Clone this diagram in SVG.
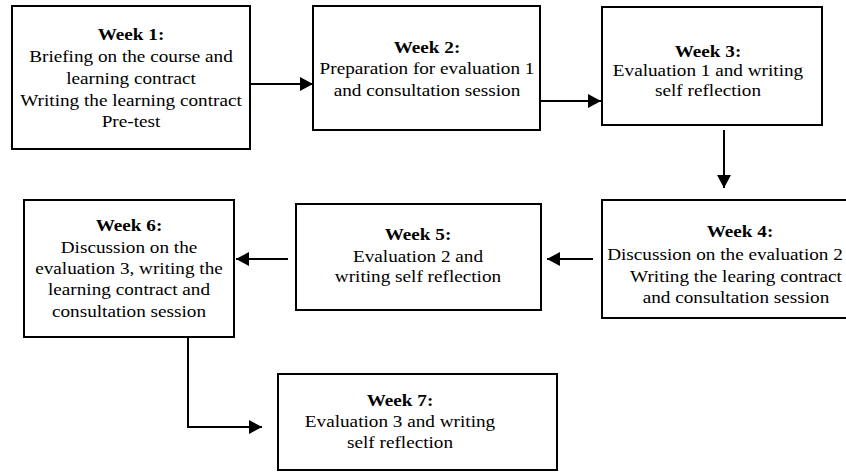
<svg xmlns="http://www.w3.org/2000/svg" width="846" height="472" viewBox="0 0 846 472">
<defs>
<marker id="ah" markerUnits="userSpaceOnUse" markerWidth="13" markerHeight="14" refX="13" refY="7" orient="auto">
<path d="M0,0 L13,7 L0,14 z" fill="#000"/>
</marker>
<style>
.box{fill:#fff;stroke:#000;stroke-width:2}
text{font-family:'Liberation Serif','Times New Roman',serif;font-size:17px;fill:#000;text-anchor:middle}
.b{font-weight:bold}
.c{fill:none;stroke:#000;stroke-width:2;marker-end:url(#ah)}
</style>
</defs>
<rect width="846" height="472" fill="#fff"/>
<g id="connectors">
<path class="c" d="M250,84 H313"/>
<path class="c" d="M540,101 H601"/>
<path class="c" d="M724,130 V188"/>
<path class="c" d="M593,259 H547"/>
<path class="c" d="M288,259 H236"/>
<path class="c" d="M188,337 V427 H262"/>
</g>
<g id="week1">
<rect class="box" x="12" y="6" width="238" height="143"/>
<g transform="translate(131 0) scale(1.13 1)">
<text class="b" x="0" y="40">Week 1:</text>
<text x="0" y="62">Briefing on the course and</text>
<text x="0" y="84">learning contract</text>
<text x="0" y="106">Writing the learning contract</text>
<text x="0" y="127">Pre-test</text>
</g>
</g>
<g id="week2">
<rect class="box" x="313" y="6" width="227" height="124"/>
<g transform="translate(427 0) scale(1.13 1)">
<text class="b" x="0" y="53">Week 2:</text>
<text x="0" y="74">Preparation for evaluation 1</text>
<text x="0" y="96">and consultation session</text>
</g>
</g>
<g id="week3">
<rect class="box" x="602" y="7" width="220" height="118"/>
<g transform="translate(708 0) scale(1.13 1)">
<text class="b" x="0" y="57">Week 3:</text>
<text x="0" y="76">Evaluation 1 and writing</text>
<text x="0" y="96">self reflection</text>
</g>
</g>
<g id="week4">
<rect class="box" x="602" y="200" width="280" height="118"/>
<g transform="translate(740 0) scale(1.13 1)">
<text class="b" x="0" y="237">Week 4:</text>
</g>
<g transform="translate(725 0) scale(1.13 1)">
<text x="0" y="260">Discussion on the evaluation 2</text>
</g>
<g transform="translate(736 0) scale(1.13 1)">
<text x="0" y="282">Writing the learing contract</text>
<text x="0" y="303">and consultation session</text>
</g>
</g>
<g id="week5">
<rect class="box" x="296" y="204" width="245" height="106"/>
<g transform="translate(418 0) scale(1.13 1)">
<text class="b" x="0" y="240">Week 5:</text>
<text x="0" y="262">Evaluation 2 and</text>
<text x="0" y="282">writing self reflection</text>
</g>
</g>
<g id="week6">
<rect class="box" x="24" y="200" width="210" height="137"/>
<g transform="translate(129 0) scale(1.13 1)">
<text class="b" x="0" y="231">Week 6:</text>
<text x="0" y="253">Discussion on the</text>
<text x="0" y="274">evaluation 3, writing the</text>
<text x="0" y="295">learning contract and</text>
<text x="0" y="317">consultation session</text>
</g>
</g>
<g id="week7">
<rect class="box" x="278" y="374" width="279" height="96"/>
<g transform="translate(400 0) scale(1.13 1)">
<text class="b" x="0" y="406">Week 7:</text>
<text x="0" y="427">Evaluation 3 and writing</text>
<text x="0" y="448">self reflection</text>
</g>
</g>
</svg>
